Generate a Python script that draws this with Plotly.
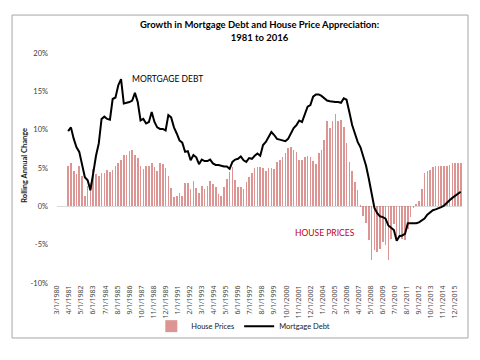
import pandas as pd
import plotly.graph_objects as go

# Quarterly observations, 3/1/1981 .. 6/1/2016 (rolling annual change, %)
start_date = "1981-03-01"
n_quarters = 142

house_prices = [
    5.2, 5.7, 4.6, 4.2, 5.3, 4.0, 1.4, 2.7, 3.0, 4.9, 4.2, 4.0, 4.3, 4.4, 4.7, 4.5,
    4.7, 5.3, 5.7, 6.1, 6.7, 6.7, 7.2, 7.3, 6.7, 6.3, 5.3, 4.9, 5.3, 5.3, 5.6, 5.1,
    4.6,
    5.6, 5.5, 5.0, 3.9, 2.4, 1.2, 1.4, 1.7, 1.3, 3.0, 3.0, 2.3, 3.3, 2.4, 1.7, 2.6,
    2.3, 2.7, 3.3, 2.9, 2.5, 1.6, 1.4, 2.5, 3.6, 4.5, 5.1, 3.4, 2.5, 2.5, 2.3, 3.2,
    3.8, 4.3, 5.0, 5.1,
    5.1, 5.0, 4.6, 5.0, 5.0, 4.9, 5.8, 6.1, 6.5, 7.0, 7.6, 7.7, 7.3, 7.1, 6.0, 6.0,
    6.5, 6.6, 6.4, 5.9, 5.5, 7.0, 7.3, 8.6, 11.1, 10.2, 11.1, 12.0, 11.1, 11.2, 10.4, 8.2,
    5.8, 4.6, 3.2, 2.1,
    0.1, -1.2, -2.2, -4.4, -7.0, -5.7, -6.0, -5.5, -4.7, -5.1, -7.0, -4.2, -2.3, -4.2,
    -4.0, -4.2, -4.4, -2.9, -1.4, -0.1, 0.3, 0.7, 2.3, 4.3, 4.6, 4.7, 5.1, 5.3, 5.2,
    5.2, 5.2, 5.2, 5.4, 5.6, 5.6, 5.7, 5.7,
]

mortgage_debt = [
    9.8, 10.3, 8.8, 7.7, 7.1, 5.6, 3.8, 3.4, 2.1, 4.3, 6.6, 8.2, 11.4, 11.7, 11.4, 11.3,
    14.0, 14.2, 15.8, 16.6, 13.4, 13.5, 13.6, 13.8, 14.8, 13.6, 11.2, 11.4, 10.8, 11.0,
    12.3, 11.0, 10.3, 10.1,
    10.1, 9.9, 11.9, 11.6, 10.3, 9.5, 8.6, 8.3, 7.1, 7.2, 6.0, 6.7, 6.4, 5.5, 6.1, 5.9,
    5.9, 6.1, 5.6, 5.4, 5.4, 5.3, 5.2, 5.2, 4.9, 5.8, 6.1, 6.2, 6.5, 6.0, 5.8, 6.3,
    6.2, 6.6, 6.9,
    6.6, 8.0, 8.4, 9.0, 9.7, 9.3, 8.8, 8.7, 8.6, 8.5, 8.8, 9.5, 10.2, 10.6, 11.2, 11.0,
    12.1, 13.0, 13.2, 14.3, 14.6, 14.6, 14.4, 14.1, 13.8, 13.7, 13.6, 13.6, 13.6, 13.5,
    14.1, 13.9, 12.3, 10.6, 9.5, 8.4, 7.7,
    6.6, 5.3, 3.6, 1.6, -0.2, -0.9, -1.3, -1.4, -1.6, -2.5, -2.8, -3.1, -4.5, -3.9,
    -3.8, -3.6, -2.2, -2.2, -2.2, -2.2, -2.1, -1.9, -1.6, -1.1, -0.8, -0.5, -0.4, -0.3,
    -0.1, 0.1, 0.5, 0.8, 1.1, 1.4, 1.7, 1.9,
]

y_ticks = [-10, -5, 0, 5, 10, 15, 20]
y_tick_labels = ["-10%", "-5%", "0%", "5%", "10%", "15%", "20%"]

# axis labels every 13 months from 3/1/1980
tick_dates = pd.date_range(start="1980-03-01", periods=34, freq="13MS")
tick_labels = [f"{d.month}/1/{d.year}" for d in tick_dates]

dates = pd.date_range(start=start_date, periods=n_quarters, freq="3MS")
house_prices = house_prices[:n_quarters]
mortgage_debt = mortgage_debt[:n_quarters]

FONT = "Lato, 'Open Sans', sans-serif"

fig = go.Figure()
fig.add_trace(go.Bar(
    x=dates[:len(house_prices)], y=house_prices, name="House Prices",
    marker=dict(color="rgb(208,105,103)", line=dict(width=0)),
    width=20 * 86400000, opacity=0.7,
))
fig.add_trace(go.Scatter(
    x=dates[:len(mortgage_debt)], y=mortgage_debt, name="Mortgage Debt",
    mode="lines", line=dict(color="black", width=2),
))

fig.update_layout(
    width=480, height=360,
    margin=dict(l=57, r=18, t=53, b=77, autoexpand=False),
    paper_bgcolor="white", plot_bgcolor="white",
    font=dict(family=FONT, size=8, color="#404040"),
    title=dict(
        text="<b>Growth in Mortgage Debt and House Price Appreciation:<br>1981 to 2016</b>",
        x=0.5, xanchor="center", xref="paper", y=0.921, yanchor="top",
        font=dict(family=FONT, size=9.5, color="black"),
    ),
    showlegend=True,
    legend=dict(orientation="h", x=0.46, xanchor="center",
                yref="container", y=0.094, yanchor="middle",
                font=dict(size=7.5, color="#202020"), bgcolor="rgba(0,0,0,0)",
                itemwidth=30, tracegroupgap=0),
    bargap=0,
    xaxis=dict(
        type="date", range=["1980-03-01", "2016-07-13"],
        tickmode="array", tickvals=tick_dates, ticktext=tick_labels,
        tickangle=-90, tickfont=dict(family="'Open Sans', sans-serif", size=7, color="#404040"),
        showgrid=False, zeroline=False, showline=False, ticks="", automargin=False,
    ),
    yaxis=dict(
        range=[-10, 20], tickmode="array", tickvals=y_ticks, ticktext=y_tick_labels,
        tickfont=dict(size=7.5, color="#404040"),
        showgrid=False, zeroline=True, zerolinecolor="#d9d9d9", zerolinewidth=1,
        showline=False, ticks="", ticklabelstandoff=8, automargin=False,
    ),
    shapes=[dict(type="rect", xref="paper", yref="paper",
                 x0=-0.111, x1=1.0148, y0=-0.239, y1=1.165,
                 line=dict(color="#a6a6a6", width=1))],
    annotations=[
        dict(text="<b>Rolling Annual Change</b>", xref="paper", yref="paper",
             x=-0.079, y=0.51, xanchor="center", yanchor="middle",
             textangle=-90, showarrow=False,
             font=dict(family=FONT, size=7.5, color="#202020")),
        dict(text="MORTGAGE DEBT", xref="paper", yref="paper",
             x=0.272, y=0.887, xanchor="center", yanchor="middle", showarrow=False,
             font=dict(family=FONT, size=8.5, color="black")),
        dict(text="HOUSE PRICES", xref="paper", yref="paper",
             x=0.662, y=0.217, xanchor="center", yanchor="middle", showarrow=False,
             font=dict(family=FONT, size=8.5, color="#c00020")),
    ],
)

fig.write_html("out.html", config={"displayModeBar": False},
               post_script="document.body.style.margin='0px';")
